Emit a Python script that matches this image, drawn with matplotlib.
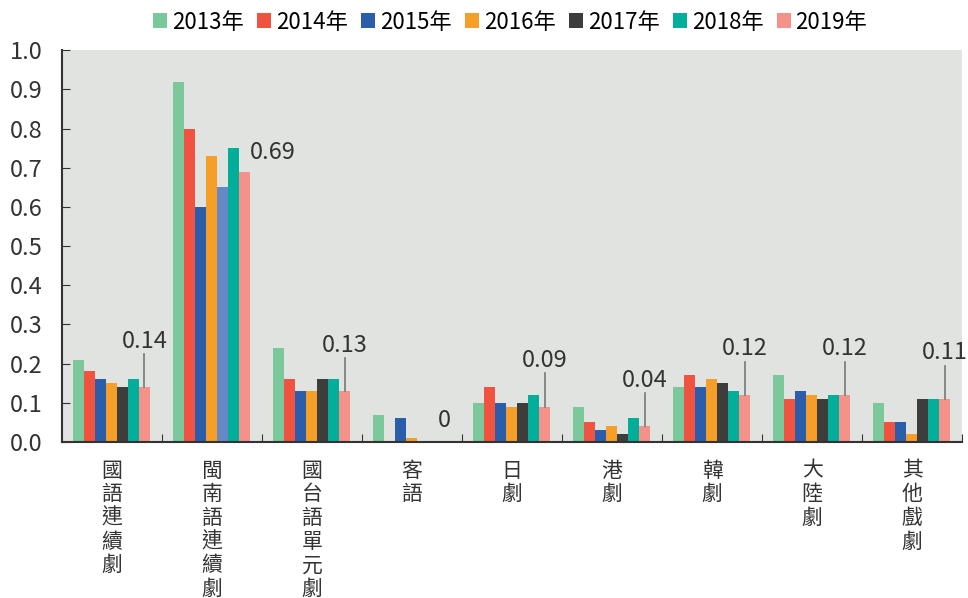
import numpy as np
import matplotlib
matplotlib.use('Agg')
from matplotlib import pyplot as plt

plt.rcParams['font.family'] = ['Noto Sans CJK TC', 'DejaVu Sans']
plt.rcParams['font.weight'] = 'light'

categories = ['國語連續劇', '閩南語連續劇', '國台語單元劇', '客語', '日劇', '港劇', '韓劇', '大陸劇', '其他戲劇']
years = ['2013年', '2014年', '2015年', '2016年', '2017年', '2018年', '2019年']

v2013 = [0.21, 0.92, 0.24, 0.07, 0.10, 0.09, 0.14, 0.17, 0.10]
v2014 = [0.18, 0.80, 0.16, 0.00, 0.14, 0.05, 0.17, 0.11, 0.05]
v2015 = [0.16, 0.60, 0.13, 0.06, 0.10, 0.03, 0.14, 0.13, 0.05]
v2016 = [0.15, 0.73, 0.13, 0.01, 0.09, 0.04, 0.16, 0.12, 0.02]
v2017 = [0.14, 0.65, 0.16, 0.00, 0.10, 0.02, 0.15, 0.11, 0.11]
v2018 = [0.16, 0.75, 0.16, 0.00, 0.12, 0.06, 0.13, 0.12, 0.11]
v2019 = [0.14, 0.69, 0.13, 0.00, 0.09, 0.04, 0.12, 0.12, 0.11]
series = [v2013, v2014, v2015, v2016, v2017, v2018, v2019]

colors = ['#7BC99A', '#F05440', '#2A5DAA', '#F59E28', '#3D3D3D', '#00AE9A', '#F4928A']
highlight = '#6688C6'  # 2017 bar of 閩南語連續劇 drawn in a lighter blue

fig = plt.figure(figsize=(9.68, 5.98), dpi=100)
ax = fig.add_axes([0.064, 0.261, 0.930, 0.655])
ax.set_facecolor('#E1E3E0')

pos = np.arange(len(categories))
width = 0.11
for i, (vals, col) in enumerate(zip(series, colors)):
    cols = [col] * len(vals)
    if i == 4:
        cols[1] = highlight
    ax.bar(pos + (i - 3) * width - 0.005, vals, width, color=cols, label=years[i])

# labels for 2019 values
x19 = pos + 3 * width - 0.005
for k, v in enumerate(v2019):
    txt = '{:.2f}'.format(v) if v > 0 else '0'
    if k == 1:
        ax.text(x19[k] + 0.05, v + 0.05, txt, ha='left', va='center', fontsize=17, color='#333333')
    elif v == 0:
        ax.text(x19[k], v + 0.025, txt, ha='center', va='bottom', fontsize=17, color='#333333')
    else:
        ax.plot([x19[k], x19[k]], [v, v + 0.085], color='#777777', lw=1.2)
        ax.text(x19[k], v + 0.088, txt, ha='center', va='bottom', fontsize=17, color='#333333', clip_on=False)

ax.set_xlim(-0.5, len(categories) - 0.5)
ax.set_ylim(0, 1.0)
ax.set_yticks(np.arange(0, 1.01, 0.1))
ax.set_yticklabels(['{:.1f}'.format(t) for t in np.arange(0, 1.01, 0.1)], fontsize=17, color='#333333')
ax.tick_params(axis='y', direction='in', length=6, color='#333333', pad=14)

ax.set_xticks(pos + 0.5)
ax.set_xticklabels([])
ax.tick_params(axis='x', direction='in', length=6, color='#333333')

for k, name in enumerate(categories):
    ax.text(pos[k], -0.045, '\n'.join(name), ha='center', va='top', fontsize=15,
            linespacing=1.1, color='#333333')

for s in ['top', 'right']:
    ax.spines[s].set_visible(False)
for s in ['left', 'bottom']:
    ax.spines[s].set_color('#333333')
    ax.spines[s].set_linewidth(1.5)

handles, labels = ax.get_legend_handles_labels()
fig.legend(handles, labels, loc='center', bbox_to_anchor=(0.527, 0.963), ncol=7, frameon=False,
           fontsize=16, handlelength=0.65, handleheight=0.65, handletextpad=0.2, columnspacing=0.6)

plt.savefig('out.png', dpi=100)
